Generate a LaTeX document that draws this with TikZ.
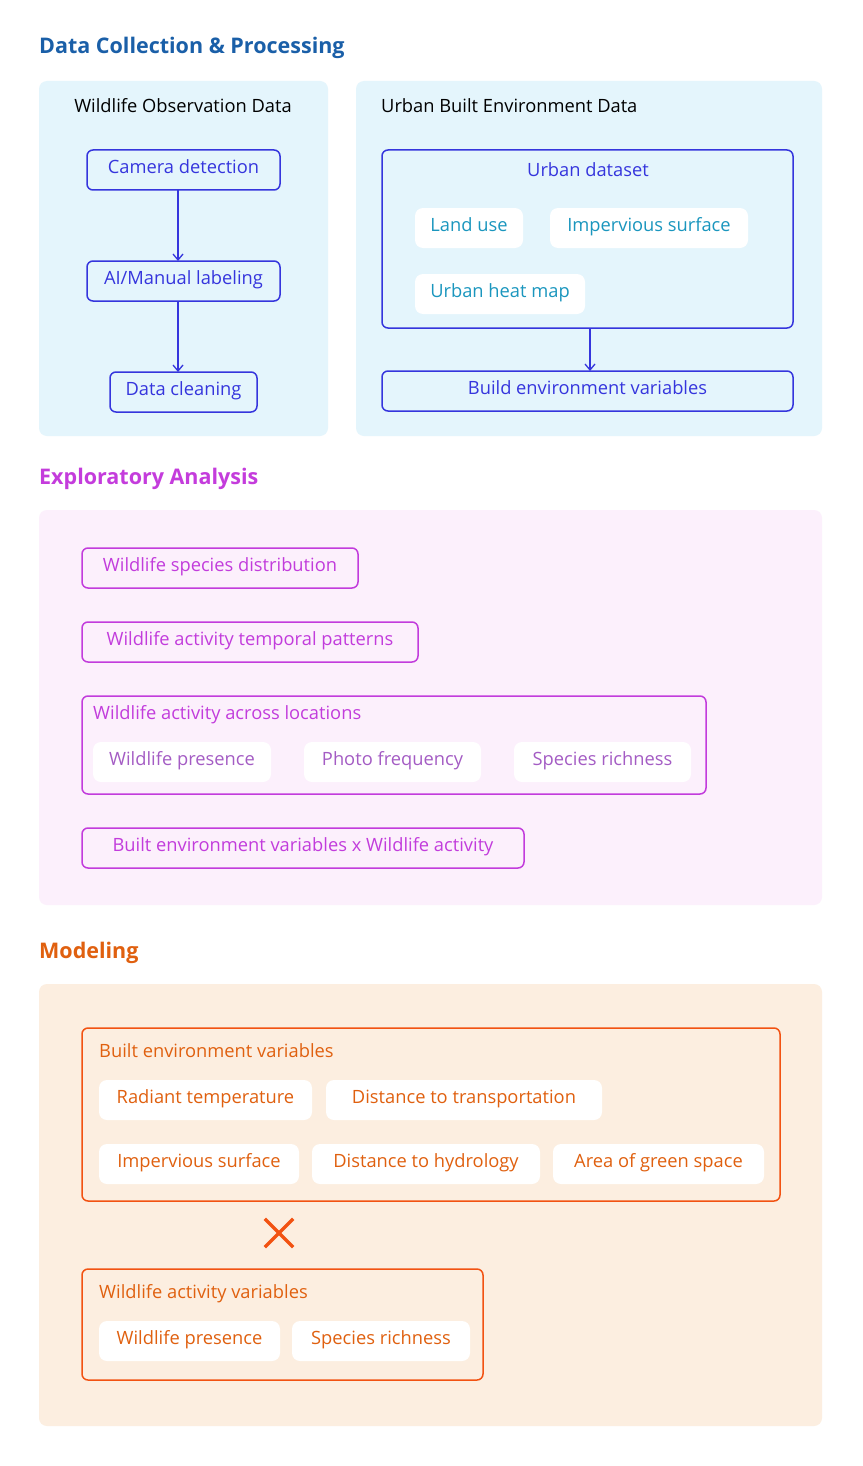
\documentclass[tikz,border=0pt]{standalone}
\usepackage{fontspec}
\setmainfont{Open Sans}
\usetikzlibrary{arrows.meta}
\definecolor{tblue}{HTML}{1A5FA8}
\definecolor{pblue}{HTML}{E4F5FC}
\definecolor{nblue}{HTML}{3535DD}
\definecolor{cblue}{HTML}{1A96BE}
\definecolor{tpur}{HTML}{C43CDC}
\definecolor{ppur}{HTML}{FCF0FC}
\definecolor{npur}{HTML}{C23CDC}
\definecolor{gpur}{HTML}{A45CC4}
\definecolor{tor}{HTML}{E0600F}
\definecolor{por}{HTML}{FCEEE0}
\definecolor{nor}{HTML}{F25212}
\begin{document}
\begin{tikzpicture}[x=1pt,y=-1pt,
  txt/.style={font=\fontsize{18.3}{22}\selectfont, inner sep=0pt, text height=11.5pt, text depth=5pt},
  ttl/.style={font=\fontsize{21.5}{25}\selectfont\bfseries, inner sep=0pt, anchor=west, text height=13pt, text depth=5pt},
  panel/.style={rounded corners=8pt, inner sep=0pt, draw=none},
  box/.style={txt, draw, line width=1.5pt, rounded corners=6pt},
  chip/.style={txt, fill=white, rounded corners=8pt, draw=none},
  arr/.style={-{Straight Barb[length=6pt,width=10pt]}, line width=1.3pt, color=nblue}]
\path[use as bounding box, fill=white] (0,0) rectangle (862,1466);
% Section 1
\node[ttl, text=tblue] (t1) at (39,50) {Data Collection \& Processing};
\node[panel, fill=pblue, minimum width=289pt, minimum height=355pt] (p1) at (183.5,258.5) {};
\node[panel, fill=pblue, minimum width=466pt, minimum height=355pt] (p2) at (589,258.5) {};
\node[txt, text=black] (wod) at (183,109) {Wildlife Observation Data};
\node[txt, text=black, anchor=west] (ube) at (381,109) {Urban Built Environment Data};
\node[box, draw=nblue, text=nblue, minimum width=193pt, minimum height=40pt] (cam) at (183.5,170) {Camera detection};
\node[box, draw=nblue, text=nblue, minimum width=193pt, minimum height=40pt] (ai) at (183.5,281) {AI/Manual labeling};
\node[box, draw=nblue, text=nblue, minimum width=147pt, minimum height=40pt] (dc) at (183.5,392) {Data cleaning};
\draw[arr] (178,190) -- (178,261);
\draw[arr] (178,301) -- (178,372);
\node[box, draw=nblue, minimum width=411pt, minimum height=178pt] (ud) at (587.5,239) {};
\node[txt, text=nblue] (udl) at (588,173) {Urban dataset};
\node[chip, text=cblue, minimum width=108pt, minimum height=40pt] (lu) at (469,228) {Land use};
\node[chip, text=cblue, minimum width=198pt, minimum height=40pt] (is) at (649,228) {Impervious surface};
\node[chip, text=cblue, minimum width=170pt, minimum height=40pt] (uh) at (500,294) {Urban heat map};
\node[box, draw=nblue, text=nblue, minimum width=411pt, minimum height=40pt] (bev) at (587.5,391) {Build environment variables};
\draw[arr] (590,328) -- (590,371);
% Section 2
\node[ttl, text=tpur] (t2) at (39,480) {Exploratory Analysis};
\node[panel, fill=ppur, minimum width=783pt, minimum height=395pt] (p3) at (430.5,707.5) {};
\node[box, draw=npur, text=npur, minimum width=276pt, minimum height=40pt] (wsd) at (220,568) {Wildlife species distribution};
\node[box, draw=npur, text=npur, minimum width=336pt, minimum height=40pt] (wat) at (250,642) {Wildlife activity temporal patterns};
\node[box, draw=npur, minimum width=624pt, minimum height=98pt] (wal) at (394,745) {};
\node[txt, text=npur, anchor=west] (wall) at (93,716) {Wildlife activity across locations};
\node[chip, text=gpur, minimum width=178pt, minimum height=40pt] (wp) at (182,762) {Wildlife presence};
\node[chip, text=gpur, minimum width=177pt, minimum height=40pt] (pf) at (392.5,762) {Photo frequency};
\node[chip, text=gpur, minimum width=177pt, minimum height=40pt] (sr) at (602.5,762) {Species richness};
\node[box, draw=npur, text=npur, minimum width=442pt, minimum height=40pt] (bew) at (303,848) {Built environment variables x Wildlife activity};
% Section 3
\node[ttl, text=tor] (t3) at (39,954) {Modeling};
\node[panel, fill=por, minimum width=783pt, minimum height=442pt] (p4) at (430.5,1205) {};
\node[box, draw=nor, minimum width=698pt, minimum height=173pt] (bevb) at (431,1114.5) {};
\node[txt, text=tor, anchor=west] (bevl) at (99,1054) {Built environment variables};
\node[chip, text=tor, minimum width=213pt, minimum height=40pt] (rt) at (205.5,1100) {Radiant temperature};
\node[chip, text=tor, minimum width=276pt, minimum height=40pt] (dt) at (464,1100) {Distance to transportation};
\node[chip, text=tor, minimum width=200pt, minimum height=40pt] (isf) at (199,1164) {Impervious surface};
\node[chip, text=tor, minimum width=228pt, minimum height=40pt] (dh) at (426,1164) {Distance to hydrology};
\node[chip, text=tor, minimum width=211pt, minimum height=40pt] (ag) at (658.5,1164) {Area of green space};
\node[inner sep=0pt, minimum size=28pt] (x) at (279,1233) {};
\draw[nor, line width=3.5pt] (x.north west) -- (x.south east) (x.north east) -- (x.south west);
\node[box, draw=nor, minimum width=401pt, minimum height=111pt] (wav) at (282.5,1324.5) {};
\node[txt, text=tor, anchor=west] (wavl) at (99,1295) {Wildlife activity variables};
\node[chip, text=tor, minimum width=181pt, minimum height=40pt] (wp2) at (189.5,1341) {Wildlife presence};
\node[chip, text=tor, minimum width=178pt, minimum height=40pt] (sr2) at (381,1341) {Species richness};
\end{tikzpicture}
\end{document}
